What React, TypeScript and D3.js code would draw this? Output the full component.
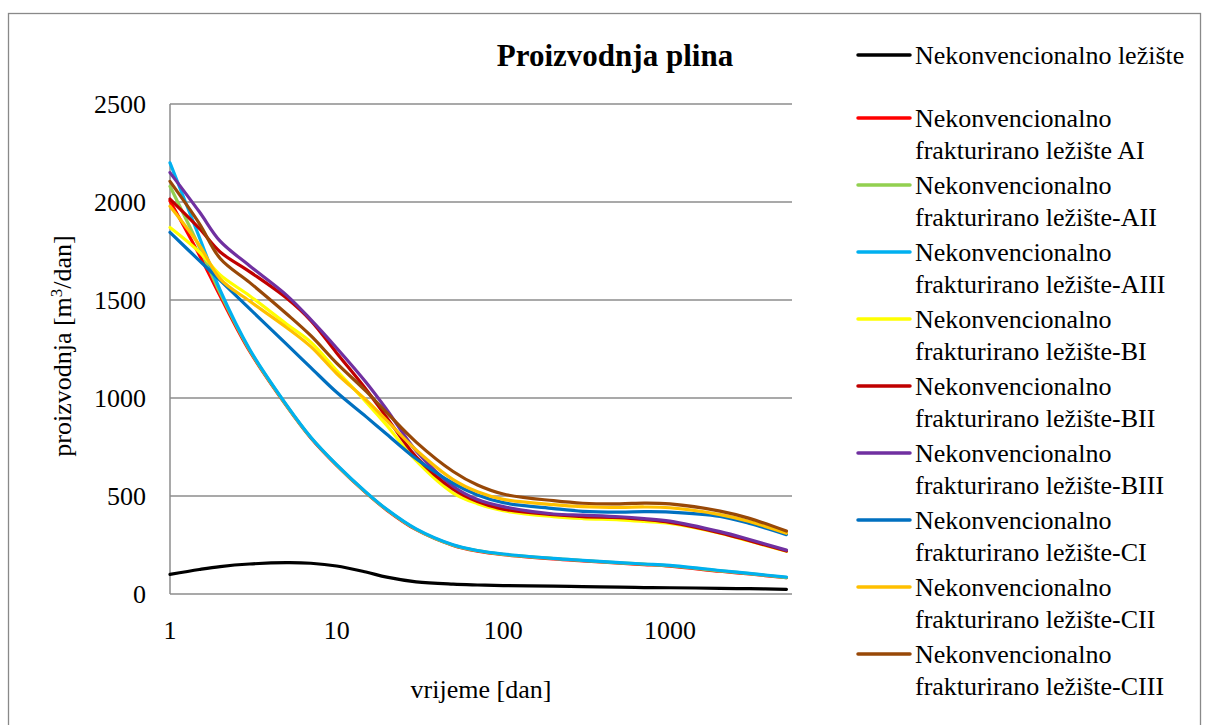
import React from "react";
import * as d3 from "d3";

const days = [1, 1.5, 2, 3, 5, 7, 10, 15, 20, 30, 50, 70, 100, 200, 300, 500, 700, 1000, 2000, 3000, 5000];

const nekonv = [100, 125, 140, 153, 160, 157, 143, 112, 86, 62, 50, 46, 43, 40, 38, 35, 33, 32, 29, 27, 24];
const AI = [2005, 1730, 1520, 1240, 960, 796, 656, 516, 428, 328, 248, 219, 201, 179, 169, 157, 150, 142, 116, 102, 83];
const AII = [2080, 1770, 1535, 1245, 962, 798, 658, 518, 430, 330, 249, 221, 202, 181, 171, 159, 152, 144, 118, 104, 84];
const AIII = [2200, 1820, 1550, 1250, 965, 800, 660, 520, 432, 332, 251, 222, 204, 182, 172, 160, 153, 146, 120, 105, 86];
const BI = [1870, 1745, 1628, 1522, 1378, 1285, 1140, 980, 860, 680, 515, 461, 425, 395, 385, 378, 370, 360, 310, 270, 218];
const BII = [2015, 1865, 1745, 1645, 1510, 1395, 1230, 1045, 900, 700, 535, 472, 433, 405, 395, 390, 380, 365, 312, 272, 219];
const BIII = [2150, 1950, 1800, 1675, 1525, 1400, 1255, 1080, 940, 730, 550, 482, 446, 408, 402, 394, 385, 372, 318, 278, 224];
const CI = [1845, 1701, 1600, 1456, 1275, 1155, 1029, 905, 815, 690, 565, 505, 466, 436, 422, 418, 420, 418, 396, 360, 303];
const CII = [1978, 1780, 1608, 1495, 1360, 1262, 1125, 990, 885, 735, 584, 522, 483, 456, 446, 442, 444, 440, 405, 370, 310];
const CIII = [2105, 1890, 1712, 1590, 1430, 1318, 1178, 1035, 925, 775, 625, 556, 510, 476, 463, 460, 464, 460, 423, 386, 321];

const seriesNames = [
  "Nekonvencionalno ležište",
  "frakturirano ležište AI",
  "frakturirano ležište-AII",
  "frakturirano ležište-AIII",
  "frakturirano ležište-BI",
  "frakturirano ležište-BII",
  "frakturirano ležište-BIII",
  "frakturirano ležište-CI",
  "frakturirano ležište-CII",
  "frakturirano ležište-CIII",
];
const seriesValues = [nekonv, AI, AII, AIII, BI, BII, BIII, CI, CII, CIII];
const seriesColors = ["#000000", "#FF0000", "#92D050", "#00B0F0", "#FFFF00", "#C00000", "#7030A0", "#0070C0", "#FFC000", "#984807"];

const xTicks = [1, 10, 100, 1000];
const yTicks = [0, 500, 1000, 1500, 2000, 2500];

const FONT = "'Liberation Serif', 'Times New Roman', serif";

export default function App() {
  const x = d3.scaleLog().domain([1, 5400]).range([170, 792]);
  const y = d3.scaleLinear().domain([0, 2500]).range([594, 104]);
  const line = d3
    .line<[number, number]>()
    .x((d) => x(d[0]))
    .y((d) => y(d[1]))
    .curve(d3.curveCatmullRom.alpha(0.5));

  const legendFirstY = 55;
  const legendStartY = 118;
  const legendStep = 67;
  const lineGap = 32;

  return (
    <svg width={1209} height={725} style={{ position: "absolute", left: 0, top: 0 }} fontFamily={FONT}>
      <rect x={8.5} y={13.5} width={1192} height={730} fill="#fff" stroke="#898989" strokeWidth={1.3} />
      {yTicks.map((t) => (
        <line key={"g" + t} x1={170} x2={792} y1={y(t)} y2={y(t)} stroke="#8c8c8c" strokeWidth={1.5} />
      ))}
      <line x1={170} x2={170} y1={104} y2={594} stroke="#8c8c8c" strokeWidth={1.5} />
      {yTicks.map((t) => (
        <text key={"yt" + t} x={146} y={y(t)} dy="0.35em" textAnchor="end" fontSize={26}>
          {t}
        </text>
      ))}
      {xTicks.map((t) => (
        <text key={"xt" + t} x={x(t)} y={630} dy="0.35em" textAnchor="middle" fontSize={26}>
          {t}
        </text>
      ))}
      <text x={481} y={689} dy="0.35em" textAnchor="middle" fontSize={26}>
        vrijeme [dan]
      </text>
      <text transform="translate(62,346) rotate(-90)" textAnchor="middle" dy="0.35em" fontSize={26}>
        proizvodnja [m<tspan dy="-9" fontSize={17}>3</tspan>
        <tspan dy="9">/dan]</tspan>
      </text>
      <text x={615} y={55} dy="0.35em" textAnchor="middle" fontSize={31} fontWeight="bold">
        Proizvodnja plina
      </text>
      {seriesValues.map((vals, i) => (
        <path
          key={"s" + i}
          d={line(days.map((d, j) => [d, vals[j]] as [number, number])) || ""}
          fill="none"
          stroke={seriesColors[i]}
          strokeWidth={3.2}
          strokeLinejoin="round"
          strokeLinecap="round"
        />
      ))}
      {seriesNames.map((name, i) => {
        const cy = i === 0 ? legendFirstY : legendStartY + (i - 1) * legendStep;
        return (
          <g key={"l" + i}>
            <line x1={858} x2={910} y1={cy} y2={cy} stroke={seriesColors[i]} strokeWidth={3.5} strokeLinecap="round" />
            {i === 0 ? (
              <text x={915} y={cy} dy="0.35em" fontSize={26}>
                {name}
              </text>
            ) : (
              <>
                <text x={915} y={cy} dy="0.35em" fontSize={26}>
                  Nekonvencionalno
                </text>
                <text x={915} y={cy + lineGap} dy="0.35em" fontSize={26}>
                  {name}
                </text>
              </>
            )}
          </g>
        );
      })}
    </svg>
  );
}
